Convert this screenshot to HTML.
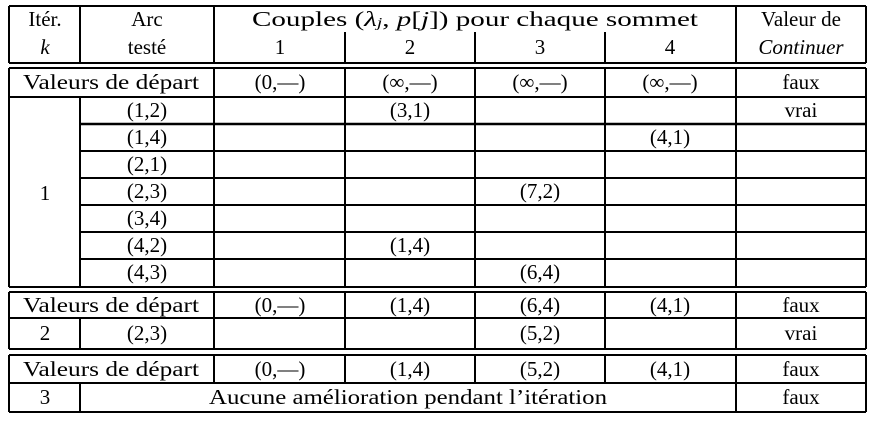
<!DOCTYPE html>
<html><head><meta charset="utf-8"><style>
html,body{margin:0;padding:0;background:#fff;width:875px;height:422px;overflow:hidden}
svg{display:block}
svg text{font-family:"Liberation Serif","DejaVu Serif",serif;font-size:21px;fill:#000;text-anchor:middle;dominant-baseline:central}
line{stroke:#000;stroke-width:2}
</style></head><body>
<svg width="875" height="422" font-family="Liberation Serif, serif">
<g>
<line x1="9" y1="6" x2="866" y2="6"/>
<line x1="9" y1="63" x2="866" y2="63"/>
<line x1="9" y1="6" x2="9" y2="63"/><line x1="866" y1="6" x2="866" y2="63"/>
<line x1="80" y1="6" x2="80" y2="63"/><line x1="214" y1="6" x2="214" y2="63"/>
<line x1="736" y1="6" x2="736" y2="63"/>
<line x1="345" y1="32" x2="345" y2="63"/><line x1="475" y1="32" x2="475" y2="63"/><line x1="605" y1="32" x2="605" y2="63"/>
<line x1="9" y1="68" x2="866" y2="68"/>
<line x1="9" y1="97" x2="866" y2="97"/>
<line x1="80" y1="124" x2="866" y2="124" style="stroke-width:2.5"/>
<line x1="80" y1="151" x2="866" y2="151"/>
<line x1="80" y1="178" x2="866" y2="178"/>
<line x1="80" y1="205" x2="866" y2="205"/>
<line x1="80" y1="232" x2="866" y2="232"/>
<line x1="80" y1="259" x2="866" y2="259"/>
<line x1="9" y1="287" x2="866" y2="287"/>
<line x1="9" y1="68" x2="9" y2="287"/><line x1="866" y1="68" x2="866" y2="287"/>
<line x1="80" y1="97" x2="80" y2="287"/>
<line x1="214" y1="68" x2="214" y2="287"/><line x1="345" y1="68" x2="345" y2="287"/>
<line x1="475" y1="68" x2="475" y2="287"/><line x1="605" y1="68" x2="605" y2="287"/>
<line x1="736" y1="68" x2="736" y2="287"/>
<line x1="9" y1="292" x2="866" y2="292"/>
<line x1="9" y1="318" x2="866" y2="318"/>
<line x1="9" y1="349" x2="866" y2="349"/>
<line x1="9" y1="292" x2="9" y2="349"/><line x1="866" y1="292" x2="866" y2="349"/>
<line x1="80" y1="318" x2="80" y2="349"/>
<line x1="214" y1="292" x2="214" y2="349"/><line x1="345" y1="292" x2="345" y2="349"/>
<line x1="475" y1="292" x2="475" y2="349"/><line x1="605" y1="292" x2="605" y2="349"/>
<line x1="736" y1="292" x2="736" y2="349"/>
<line x1="9" y1="355" x2="866" y2="355"/>
<line x1="9" y1="383" x2="866" y2="383"/>
<line x1="9" y1="412" x2="866" y2="412"/>
<line x1="9" y1="355" x2="9" y2="412"/><line x1="866" y1="355" x2="866" y2="412"/>
<line x1="80" y1="383" x2="80" y2="412"/>
<line x1="214" y1="355" x2="214" y2="383"/><line x1="345" y1="355" x2="345" y2="383"/>
<line x1="475" y1="355" x2="475" y2="383"/><line x1="605" y1="355" x2="605" y2="383"/>
<line x1="736" y1="355" x2="736" y2="412"/>
</g>
<g>
<text x="45" y="19">Itér.</text><text x="45" y="47" font-style="italic">k</text>
<text x="147" y="19">Arc</text><text x="147" y="47">testé</text>
<text x="475" y="19" textLength="446" lengthAdjust="spacingAndGlyphs">Couples (<tspan font-style="italic">λ</tspan><tspan font-style="italic" font-size="14" dy="4">j</tspan><tspan dy="-4">, </tspan><tspan font-style="italic">p</tspan>[<tspan font-style="italic">j</tspan>]) pour chaque sommet</text>
<text x="280" y="47">1</text><text x="410" y="47">2</text><text x="540" y="47">3</text><text x="670" y="47">4</text>
<text x="801" y="19">Valeur de</text><text x="801" y="47" font-style="italic">Continuer</text>
</g>
<g>
<text x="111" y="82" textLength="176" lengthAdjust="spacingAndGlyphs">Valeurs de départ</text>
<text x="280" y="82">(0,—)</text><text x="410" y="82">(∞,—)</text><text x="540" y="82">(∞,—)</text><text x="670" y="82">(∞,—)</text><text x="801" y="82">faux</text>
<text x="45" y="193">1</text>
<text x="147" y="110">(1,2)</text><text x="410" y="110">(3,1)</text><text x="801" y="110">vrai</text>
<text x="147" y="137">(1,4)</text><text x="670" y="137">(4,1)</text>
<text x="147" y="164">(2,1)</text>
<text x="147" y="191">(2,3)</text><text x="540" y="191">(7,2)</text>
<text x="147" y="218">(3,4)</text>
<text x="147" y="245">(4,2)</text><text x="410" y="245">(1,4)</text>
<text x="147" y="272">(4,3)</text><text x="540" y="272">(6,4)</text>
</g>
<g>
<text x="111" y="305" textLength="176" lengthAdjust="spacingAndGlyphs">Valeurs de départ</text>
<text x="280" y="305">(0,—)</text><text x="410" y="305">(1,4)</text><text x="540" y="305">(6,4)</text><text x="670" y="305">(4,1)</text><text x="801" y="305">faux</text>
<text x="45" y="333">2</text><text x="147" y="333">(2,3)</text><text x="540" y="333">(5,2)</text><text x="801" y="333">vrai</text>
</g>
<g>
<text x="111" y="369" textLength="176" lengthAdjust="spacingAndGlyphs">Valeurs de départ</text>
<text x="280" y="369">(0,—)</text><text x="410" y="369">(1,4)</text><text x="540" y="369">(5,2)</text><text x="670" y="369">(4,1)</text><text x="801" y="369">faux</text>
<text x="45" y="397">3</text><text x="408" y="397" textLength="398" lengthAdjust="spacingAndGlyphs">Aucune amélioration pendant l’itération</text><text x="801" y="397">faux</text>
</g>
</svg>
</body></html>
